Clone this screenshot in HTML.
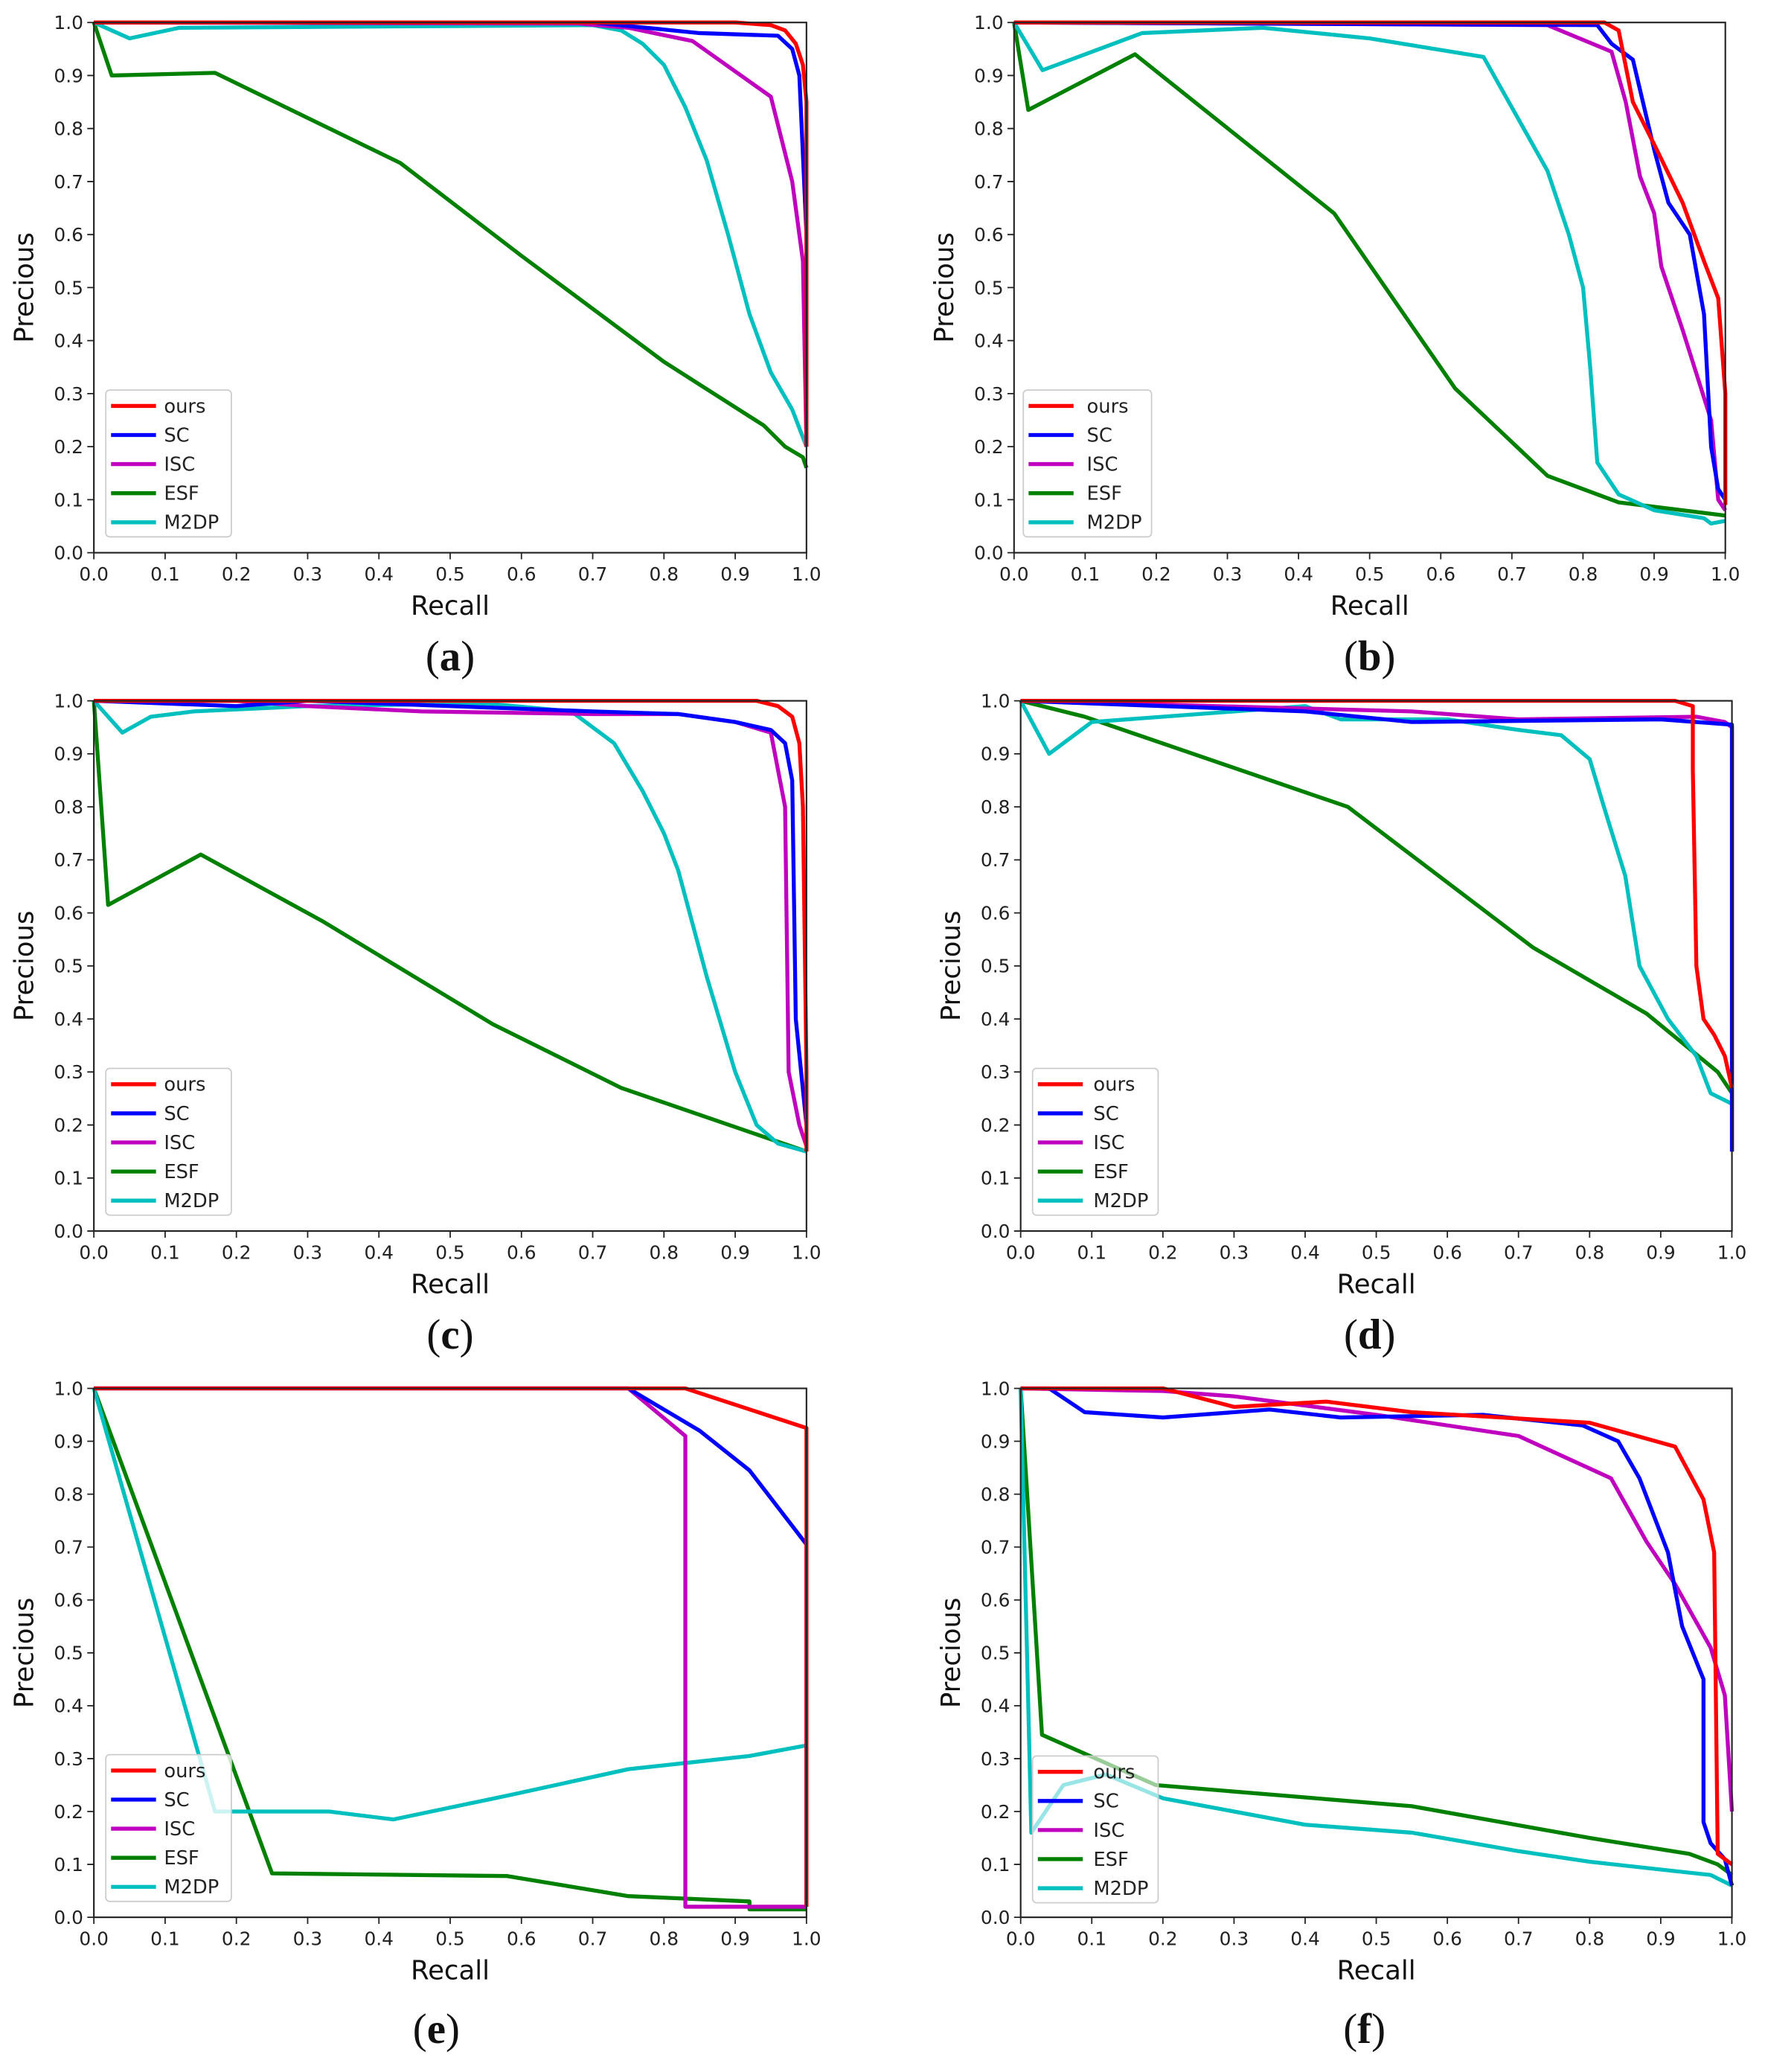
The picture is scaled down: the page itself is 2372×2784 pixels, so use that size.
<!DOCTYPE html>
<html><head><meta charset="utf-8">
<style>
html,body{margin:0;padding:0;background:#fff;}
svg{display:block;}
.t{font-family:"DejaVu Sans","Liberation Sans",sans-serif;font-size:14px;fill:#222;}
.yl{text-anchor:end;}
.xl{text-anchor:middle;}
.al{font-family:"DejaVu Sans","Liberation Sans",sans-serif;font-size:20px;fill:#111;text-anchor:middle;}
.cap{font-family:"Liberation Serif",serif;font-size:32px;fill:#111;text-anchor:middle;}
.capb{font-weight:bold;}
.lg{font-family:"DejaVu Sans","Liberation Sans",sans-serif;font-size:14.5px;fill:#222;}
polyline{fill:none;stroke-width:5.3;vector-effect:non-scaling-stroke;stroke-linejoin:round;}
.r{stroke:#ff0000}.b{stroke:#0000ff}.m{stroke:#bf00bf}.g{stroke:#008000}.c{stroke:#00bfbf}
</style></head><body>
<svg width="2372" height="2784" viewBox="0 0 1335 1567" preserveAspectRatio="none" xmlns="http://www.w3.org/2000/svg">
<defs>
<g id="ticks" stroke="#222" stroke-width="1">
<path d="M0 401v5M53.9 401v5M107.8 401v5M161.7 401v5M215.6 401v5M269.5 401v5M323.4 401v5M377.3 401v5M431.2 401v5M485.1 401v5M539 401v5"/>
<path d="M0 401h-5M0 360.9h-5M0 320.8h-5M0 280.7h-5M0 240.6h-5M0 200.5h-5M0 160.4h-5M0 120.3h-5M0 80.2h-5M0 40.1h-5M0 0h-5"/>
</g>
</defs>

<!-- PANEL A -->
<g transform="translate(71,17)">
<g transform="translate(0,401) scale(539,-401)">
<polyline class="g" points="0,1 0.025,0.9 0.17,0.905 0.43,0.735 0.6,0.56 0.8,0.36 0.94,0.24 0.97,0.2 0.995,0.18 1,0.16"/>
<polyline class="c" points="0,1 0.05,0.97 0.12,0.99 0.7,0.995 0.74,0.985 0.77,0.96 0.8,0.92 0.83,0.84 0.86,0.74 0.89,0.6 0.92,0.45 0.95,0.34 0.98,0.27 1,0.2"/>
<polyline class="m" points="0,1 0.68,0.998 0.75,0.99 0.84,0.965 0.95,0.86 0.98,0.7 0.995,0.55 1,0.2"/>
<polyline class="b" points="0,1 0.7,1 0.85,0.98 0.96,0.975 0.98,0.95 0.99,0.9 1,0.6 1,0.2"/>
<polyline class="r" points="0,1 0.9,1 0.95,0.995 0.97,0.985 0.985,0.96 0.995,0.92 1,0.85 1,0.2"/>
</g>
<rect x="0" y="0" width="539" height="401" fill="none" stroke="#222" stroke-width="1.2"/>
<use href="#ticks"/>
<g class="t yl"><text x="-8" y="406">0.0</text><text x="-8" y="365.9">0.1</text><text x="-8" y="325.8">0.2</text><text x="-8" y="285.7">0.3</text><text x="-8" y="245.6">0.4</text><text x="-8" y="205.5">0.5</text><text x="-8" y="165.4">0.6</text><text x="-8" y="125.3">0.7</text><text x="-8" y="85.2">0.8</text><text x="-8" y="45.1">0.9</text><text x="-8" y="5">1.0</text></g>
<g class="t xl"><text x="0" y="422">0.0</text><text x="53.9" y="422">0.1</text><text x="107.8" y="422">0.2</text><text x="161.7" y="422">0.3</text><text x="215.6" y="422">0.4</text><text x="269.5" y="422">0.5</text><text x="323.4" y="422">0.6</text><text x="377.3" y="422">0.7</text><text x="431.2" y="422">0.8</text><text x="485.1" y="422">0.9</text><text x="539" y="422">1.0</text></g>
<text class="al" x="269.5" y="448">Recall</text>
<text class="al" transform="translate(-46,200.5) rotate(-90)">Precious</text>
<text class="cap" x="269.5" y="490">(<tspan class="capb">a</tspan>)</text>
<g transform="translate(9,278)"><rect width="95" height="111" rx="3" fill="#fff" fill-opacity="0.8" stroke="#ccc"/>
<g stroke-width="3"><path d="M4 12h34" stroke="#f00"/><path d="M4 34h34" stroke="#00f"/><path d="M4 56h34" stroke="#bf00bf"/><path d="M4 78h34" stroke="#008000"/><path d="M4 100h34" stroke="#00bfbf"/></g>
<g class="lg"><text x="44" y="17">ours</text><text x="44" y="39">SC</text><text x="44" y="61">ISC</text><text x="44" y="83">ESF</text><text x="44" y="105">M2DP</text></g></g>
</g>

<!-- PANEL B -->
<g transform="translate(767,17)">
<g transform="translate(0,401) scale(538,-401)">
<polyline class="g" points="0,1 0.02,0.835 0.17,0.94 0.45,0.64 0.62,0.31 0.75,0.145 0.85,0.095 1,0.07"/>
<polyline class="c" points="0,1 0.04,0.91 0.18,0.98 0.35,0.99 0.5,0.97 0.66,0.935 0.75,0.72 0.78,0.6 0.8,0.5 0.81,0.35 0.82,0.17 0.85,0.11 0.9,0.08 0.97,0.065 0.98,0.055 1,0.06"/>
<polyline class="m" points="0,1 0.75,0.995 0.84,0.945 0.86,0.85 0.88,0.71 0.9,0.64 0.91,0.54 0.94,0.42 0.98,0.25 0.99,0.1 1,0.08"/>
<polyline class="b" points="0,1 0.82,0.995 0.84,0.96 0.87,0.93 0.9,0.76 0.92,0.66 0.95,0.6 0.97,0.45 0.98,0.2 0.99,0.12 1,0.1"/>
<polyline class="r" points="0,1 0.83,1 0.85,0.985 0.87,0.85 0.9,0.77 0.94,0.66 0.97,0.55 0.99,0.48 1,0.3 1,0.09"/>
</g>
<rect x="0" y="0" width="538" height="401" fill="none" stroke="#222" stroke-width="1.2"/>
<use href="#ticks" transform="scale(0.998,1)"/>
<g class="t yl"><text x="-8" y="406">0.0</text><text x="-8" y="365.9">0.1</text><text x="-8" y="325.8">0.2</text><text x="-8" y="285.7">0.3</text><text x="-8" y="245.6">0.4</text><text x="-8" y="205.5">0.5</text><text x="-8" y="165.4">0.6</text><text x="-8" y="125.3">0.7</text><text x="-8" y="85.2">0.8</text><text x="-8" y="45.1">0.9</text><text x="-8" y="5">1.0</text></g>
<g class="t xl"><text x="0" y="422">0.0</text><text x="53.8" y="422">0.1</text><text x="107.6" y="422">0.2</text><text x="161.4" y="422">0.3</text><text x="215.2" y="422">0.4</text><text x="269" y="422">0.5</text><text x="322.8" y="422">0.6</text><text x="376.6" y="422">0.7</text><text x="430.4" y="422">0.8</text><text x="484.2" y="422">0.9</text><text x="538" y="422">1.0</text></g>
<text class="al" x="269" y="448">Recall</text>
<text class="al" transform="translate(-46,200.5) rotate(-90)">Precious</text>
<text class="cap" x="269" y="490">(<tspan class="capb">b</tspan>)</text>
<g transform="translate(7,278)"><rect width="97" height="111" rx="3" fill="#fff" fill-opacity="0.8" stroke="#ccc"/>
<g stroke-width="3"><path d="M4 12h34" stroke="#f00"/><path d="M4 34h34" stroke="#00f"/><path d="M4 56h34" stroke="#bf00bf"/><path d="M4 78h34" stroke="#008000"/><path d="M4 100h34" stroke="#00bfbf"/></g>
<g class="lg"><text x="48" y="17">ours</text><text x="48" y="39">SC</text><text x="48" y="61">ISC</text><text x="48" y="83">ESF</text><text x="48" y="105">M2DP</text></g></g>
</g>

<!-- PANEL C -->
<g transform="translate(71,530)">
<g transform="translate(0,401) scale(539,-401)">
<polyline class="g" points="0,1 0.02,0.615 0.15,0.71 0.32,0.585 0.56,0.39 0.74,0.27 1,0.15"/>
<polyline class="c" points="0,1 0.04,0.94 0.08,0.97 0.14,0.98 0.3,0.99 0.55,0.995 0.67,0.98 0.73,0.92 0.77,0.83 0.8,0.75 0.82,0.68 0.84,0.58 0.86,0.48 0.9,0.3 0.93,0.2 0.96,0.165 1,0.15"/>
<polyline class="m" points="0,1 0.2,1 0.3,0.99 0.46,0.98 0.7,0.975 0.82,0.975 0.9,0.96 0.95,0.94 0.97,0.8 0.975,0.3 0.99,0.2 1,0.16"/>
<polyline class="b" points="0,1 0.2,0.99 0.3,1 0.7,0.98 0.82,0.975 0.9,0.96 0.95,0.945 0.97,0.92 0.98,0.85 0.985,0.4 1,0.2"/>
<polyline class="r" points="0,1 0.93,1 0.96,0.99 0.98,0.97 0.99,0.92 0.995,0.8 1,0.3 1,0.15"/>
</g>
<rect x="0" y="0" width="539" height="401" fill="none" stroke="#222" stroke-width="1.2"/>
<use href="#ticks"/>
<g class="t yl"><text x="-8" y="406">0.0</text><text x="-8" y="365.9">0.1</text><text x="-8" y="325.8">0.2</text><text x="-8" y="285.7">0.3</text><text x="-8" y="245.6">0.4</text><text x="-8" y="205.5">0.5</text><text x="-8" y="165.4">0.6</text><text x="-8" y="125.3">0.7</text><text x="-8" y="85.2">0.8</text><text x="-8" y="45.1">0.9</text><text x="-8" y="5">1.0</text></g>
<g class="t xl"><text x="0" y="422">0.0</text><text x="53.9" y="422">0.1</text><text x="107.8" y="422">0.2</text><text x="161.7" y="422">0.3</text><text x="215.6" y="422">0.4</text><text x="269.5" y="422">0.5</text><text x="323.4" y="422">0.6</text><text x="377.3" y="422">0.7</text><text x="431.2" y="422">0.8</text><text x="485.1" y="422">0.9</text><text x="539" y="422">1.0</text></g>
<text class="al" x="269.5" y="448">Recall</text>
<text class="al" transform="translate(-46,200.5) rotate(-90)">Precious</text>
<text class="cap" x="269.5" y="490">(<tspan class="capb">c</tspan>)</text>
<g transform="translate(9,278)"><rect width="95" height="111" rx="3" fill="#fff" fill-opacity="0.8" stroke="#ccc"/>
<g stroke-width="3"><path d="M4 12h34" stroke="#f00"/><path d="M4 34h34" stroke="#00f"/><path d="M4 56h34" stroke="#bf00bf"/><path d="M4 78h34" stroke="#008000"/><path d="M4 100h34" stroke="#00bfbf"/></g>
<g class="lg"><text x="44" y="17">ours</text><text x="44" y="39">SC</text><text x="44" y="61">ISC</text><text x="44" y="83">ESF</text><text x="44" y="105">M2DP</text></g></g>
</g>

<!-- PANEL D -->
<g transform="translate(772,530)">
<g transform="translate(0,401) scale(538,-401)">
<polyline class="g" points="0,1 0.09,0.97 0.46,0.8 0.72,0.535 0.88,0.41 0.98,0.3 1,0.26"/>
<polyline class="c" points="0,1 0.04,0.9 0.1,0.96 0.4,0.99 0.45,0.965 0.6,0.965 0.7,0.945 0.76,0.935 0.8,0.89 0.82,0.8 0.85,0.67 0.87,0.5 0.91,0.4 0.95,0.33 0.97,0.26 1,0.24"/>
<polyline class="m" points="0,1 0.55,0.98 0.7,0.965 0.95,0.97 0.99,0.96 1,0.95 1,0.15"/>
<polyline class="b" points="0,1 0.2,0.99 0.4,0.98 0.55,0.96 0.9,0.965 1,0.955 1,0.15"/>
<polyline class="r" points="0,1 0.92,1 0.945,0.99 0.945,0.87 0.95,0.5 0.96,0.4 0.975,0.37 0.99,0.33 1,0.27"/>
</g>
<rect x="0" y="0" width="538" height="401" fill="none" stroke="#222" stroke-width="1.2"/>
<use href="#ticks" transform="scale(0.998,1)"/>
<g class="t yl"><text x="-8" y="406">0.0</text><text x="-8" y="365.9">0.1</text><text x="-8" y="325.8">0.2</text><text x="-8" y="285.7">0.3</text><text x="-8" y="245.6">0.4</text><text x="-8" y="205.5">0.5</text><text x="-8" y="165.4">0.6</text><text x="-8" y="125.3">0.7</text><text x="-8" y="85.2">0.8</text><text x="-8" y="45.1">0.9</text><text x="-8" y="5">1.0</text></g>
<g class="t xl"><text x="0" y="422">0.0</text><text x="53.8" y="422">0.1</text><text x="107.6" y="422">0.2</text><text x="161.4" y="422">0.3</text><text x="215.2" y="422">0.4</text><text x="269" y="422">0.5</text><text x="322.8" y="422">0.6</text><text x="376.6" y="422">0.7</text><text x="430.4" y="422">0.8</text><text x="484.2" y="422">0.9</text><text x="538" y="422">1.0</text></g>
<text class="al" x="269" y="448">Recall</text>
<text class="al" transform="translate(-46,200.5) rotate(-90)">Precious</text>
<text class="cap" x="264" y="490">(<tspan class="capb">d</tspan>)</text>
<g transform="translate(9,278)"><rect width="95" height="111" rx="3" fill="#fff" fill-opacity="0.8" stroke="#ccc"/>
<g stroke-width="3"><path d="M4 12h34" stroke="#f00"/><path d="M4 34h34" stroke="#00f"/><path d="M4 56h34" stroke="#bf00bf"/><path d="M4 78h34" stroke="#008000"/><path d="M4 100h34" stroke="#00bfbf"/></g>
<g class="lg"><text x="46" y="17">ours</text><text x="46" y="39">SC</text><text x="46" y="61">ISC</text><text x="46" y="83">ESF</text><text x="46" y="105">M2DP</text></g></g>
</g>

<!-- PANEL E -->
<g transform="translate(71,1050)">
<g transform="translate(0,400) scale(539,-400)">
<polyline class="g" points="0,1 0.25,0.083 0.58,0.078 0.75,0.04 0.92,0.03 0.92,0.015 1,0.015"/>
<polyline class="c" points="0,1 0.17,0.2 0.33,0.2 0.42,0.185 0.58,0.23 0.75,0.28 0.92,0.305 1,0.325 1,0.02"/>
<polyline class="m" points="0,1 0.75,1 0.83,0.91 0.83,0.02 1,0.02"/>
<polyline class="b" points="0,1 0.75,1 0.85,0.92 0.92,0.845 1,0.705 1,0.02"/>
<polyline class="r" points="0,1 0.83,1 1,0.925 1,0.02"/>
</g>
<rect x="0" y="0" width="539" height="400" fill="none" stroke="#222" stroke-width="1.2"/>
<use href="#ticks" transform="scale(1,0.9975)"/>
<g class="t yl"><text x="-8" y="405">0.0</text><text x="-8" y="365">0.1</text><text x="-8" y="325">0.2</text><text x="-8" y="285">0.3</text><text x="-8" y="245">0.4</text><text x="-8" y="205">0.5</text><text x="-8" y="165">0.6</text><text x="-8" y="125">0.7</text><text x="-8" y="85">0.8</text><text x="-8" y="45">0.9</text><text x="-8" y="5">1.0</text></g>
<g class="t xl"><text x="0" y="421">0.0</text><text x="53.9" y="421">0.1</text><text x="107.8" y="421">0.2</text><text x="161.7" y="421">0.3</text><text x="215.6" y="421">0.4</text><text x="269.5" y="421">0.5</text><text x="323.4" y="421">0.6</text><text x="377.3" y="421">0.7</text><text x="431.2" y="421">0.8</text><text x="485.1" y="421">0.9</text><text x="539" y="421">1.0</text></g>
<text class="al" x="269.5" y="447">Recall</text>
<text class="al" transform="translate(-46,200) rotate(-90)">Precious</text>
<text class="cap" x="259" y="495">(<tspan class="capb">e</tspan>)</text>
<g transform="translate(9,277)"><rect width="95" height="111" rx="3" fill="#fff" fill-opacity="0.8" stroke="#ccc"/>
<g stroke-width="3"><path d="M4 12h34" stroke="#f00"/><path d="M4 34h34" stroke="#00f"/><path d="M4 56h34" stroke="#bf00bf"/><path d="M4 78h34" stroke="#008000"/><path d="M4 100h34" stroke="#00bfbf"/></g>
<g class="lg"><text x="44" y="17">ours</text><text x="44" y="39">SC</text><text x="44" y="61">ISC</text><text x="44" y="83">ESF</text><text x="44" y="105">M2DP</text></g></g>
</g>

<!-- PANEL F -->
<g transform="translate(772,1050)">
<g transform="translate(0,400) scale(538,-400)">
<polyline class="g" points="0,1 0.03,0.345 0.19,0.25 0.55,0.21 0.8,0.15 0.94,0.12 0.98,0.1 1,0.08"/>
<polyline class="c" points="0,1 0.015,0.16 0.06,0.25 0.12,0.27 0.2,0.225 0.4,0.175 0.55,0.16 0.7,0.125 0.8,0.105 0.97,0.08 1,0.06"/>
<polyline class="m" points="0,1 0.2,0.995 0.3,0.985 0.5,0.95 0.7,0.91 0.83,0.83 0.88,0.71 0.92,0.63 0.97,0.51 0.99,0.42 1,0.2"/>
<polyline class="b" points="0,1 0.04,1 0.09,0.955 0.2,0.945 0.35,0.96 0.45,0.945 0.65,0.95 0.79,0.93 0.84,0.9 0.87,0.83 0.91,0.69 0.93,0.55 0.96,0.45 0.96,0.18 0.97,0.14 0.99,0.11 1,0.06"/>
<polyline class="r" points="0,1 0.2,1 0.3,0.965 0.43,0.975 0.55,0.955 0.8,0.935 0.92,0.89 0.96,0.79 0.975,0.69 0.98,0.12 1,0.1"/>
</g>
<rect x="0" y="0" width="538" height="400" fill="none" stroke="#222" stroke-width="1.2"/>
<use href="#ticks" transform="scale(0.998,0.9975)"/>
<g class="t yl"><text x="-8" y="405">0.0</text><text x="-8" y="365">0.1</text><text x="-8" y="325">0.2</text><text x="-8" y="285">0.3</text><text x="-8" y="245">0.4</text><text x="-8" y="205">0.5</text><text x="-8" y="165">0.6</text><text x="-8" y="125">0.7</text><text x="-8" y="85">0.8</text><text x="-8" y="45">0.9</text><text x="-8" y="5">1.0</text></g>
<g class="t xl"><text x="0" y="421">0.0</text><text x="53.8" y="421">0.1</text><text x="107.6" y="421">0.2</text><text x="161.4" y="421">0.3</text><text x="215.2" y="421">0.4</text><text x="269" y="421">0.5</text><text x="322.8" y="421">0.6</text><text x="376.6" y="421">0.7</text><text x="430.4" y="421">0.8</text><text x="484.2" y="421">0.9</text><text x="538" y="421">1.0</text></g>
<text class="al" x="269" y="447">Recall</text>
<text class="al" transform="translate(-46,200) rotate(-90)">Precious</text>
<text class="cap" x="260" y="495">(<tspan class="capb">f</tspan>)</text>
<g transform="translate(9,278)"><rect width="95" height="111" rx="3" fill="#fff" fill-opacity="0.6" stroke="#ccc"/>
<g stroke-width="3"><path d="M4 12h34" stroke="#f00"/><path d="M4 34h34" stroke="#00f"/><path d="M4 56h34" stroke="#bf00bf"/><path d="M4 78h34" stroke="#008000"/><path d="M4 100h34" stroke="#00bfbf"/></g>
<g class="lg"><text x="46" y="17">ours</text><text x="46" y="39">SC</text><text x="46" y="61">ISC</text><text x="46" y="83">ESF</text><text x="46" y="105">M2DP</text></g></g>
</g>
</svg>
</body></html>
